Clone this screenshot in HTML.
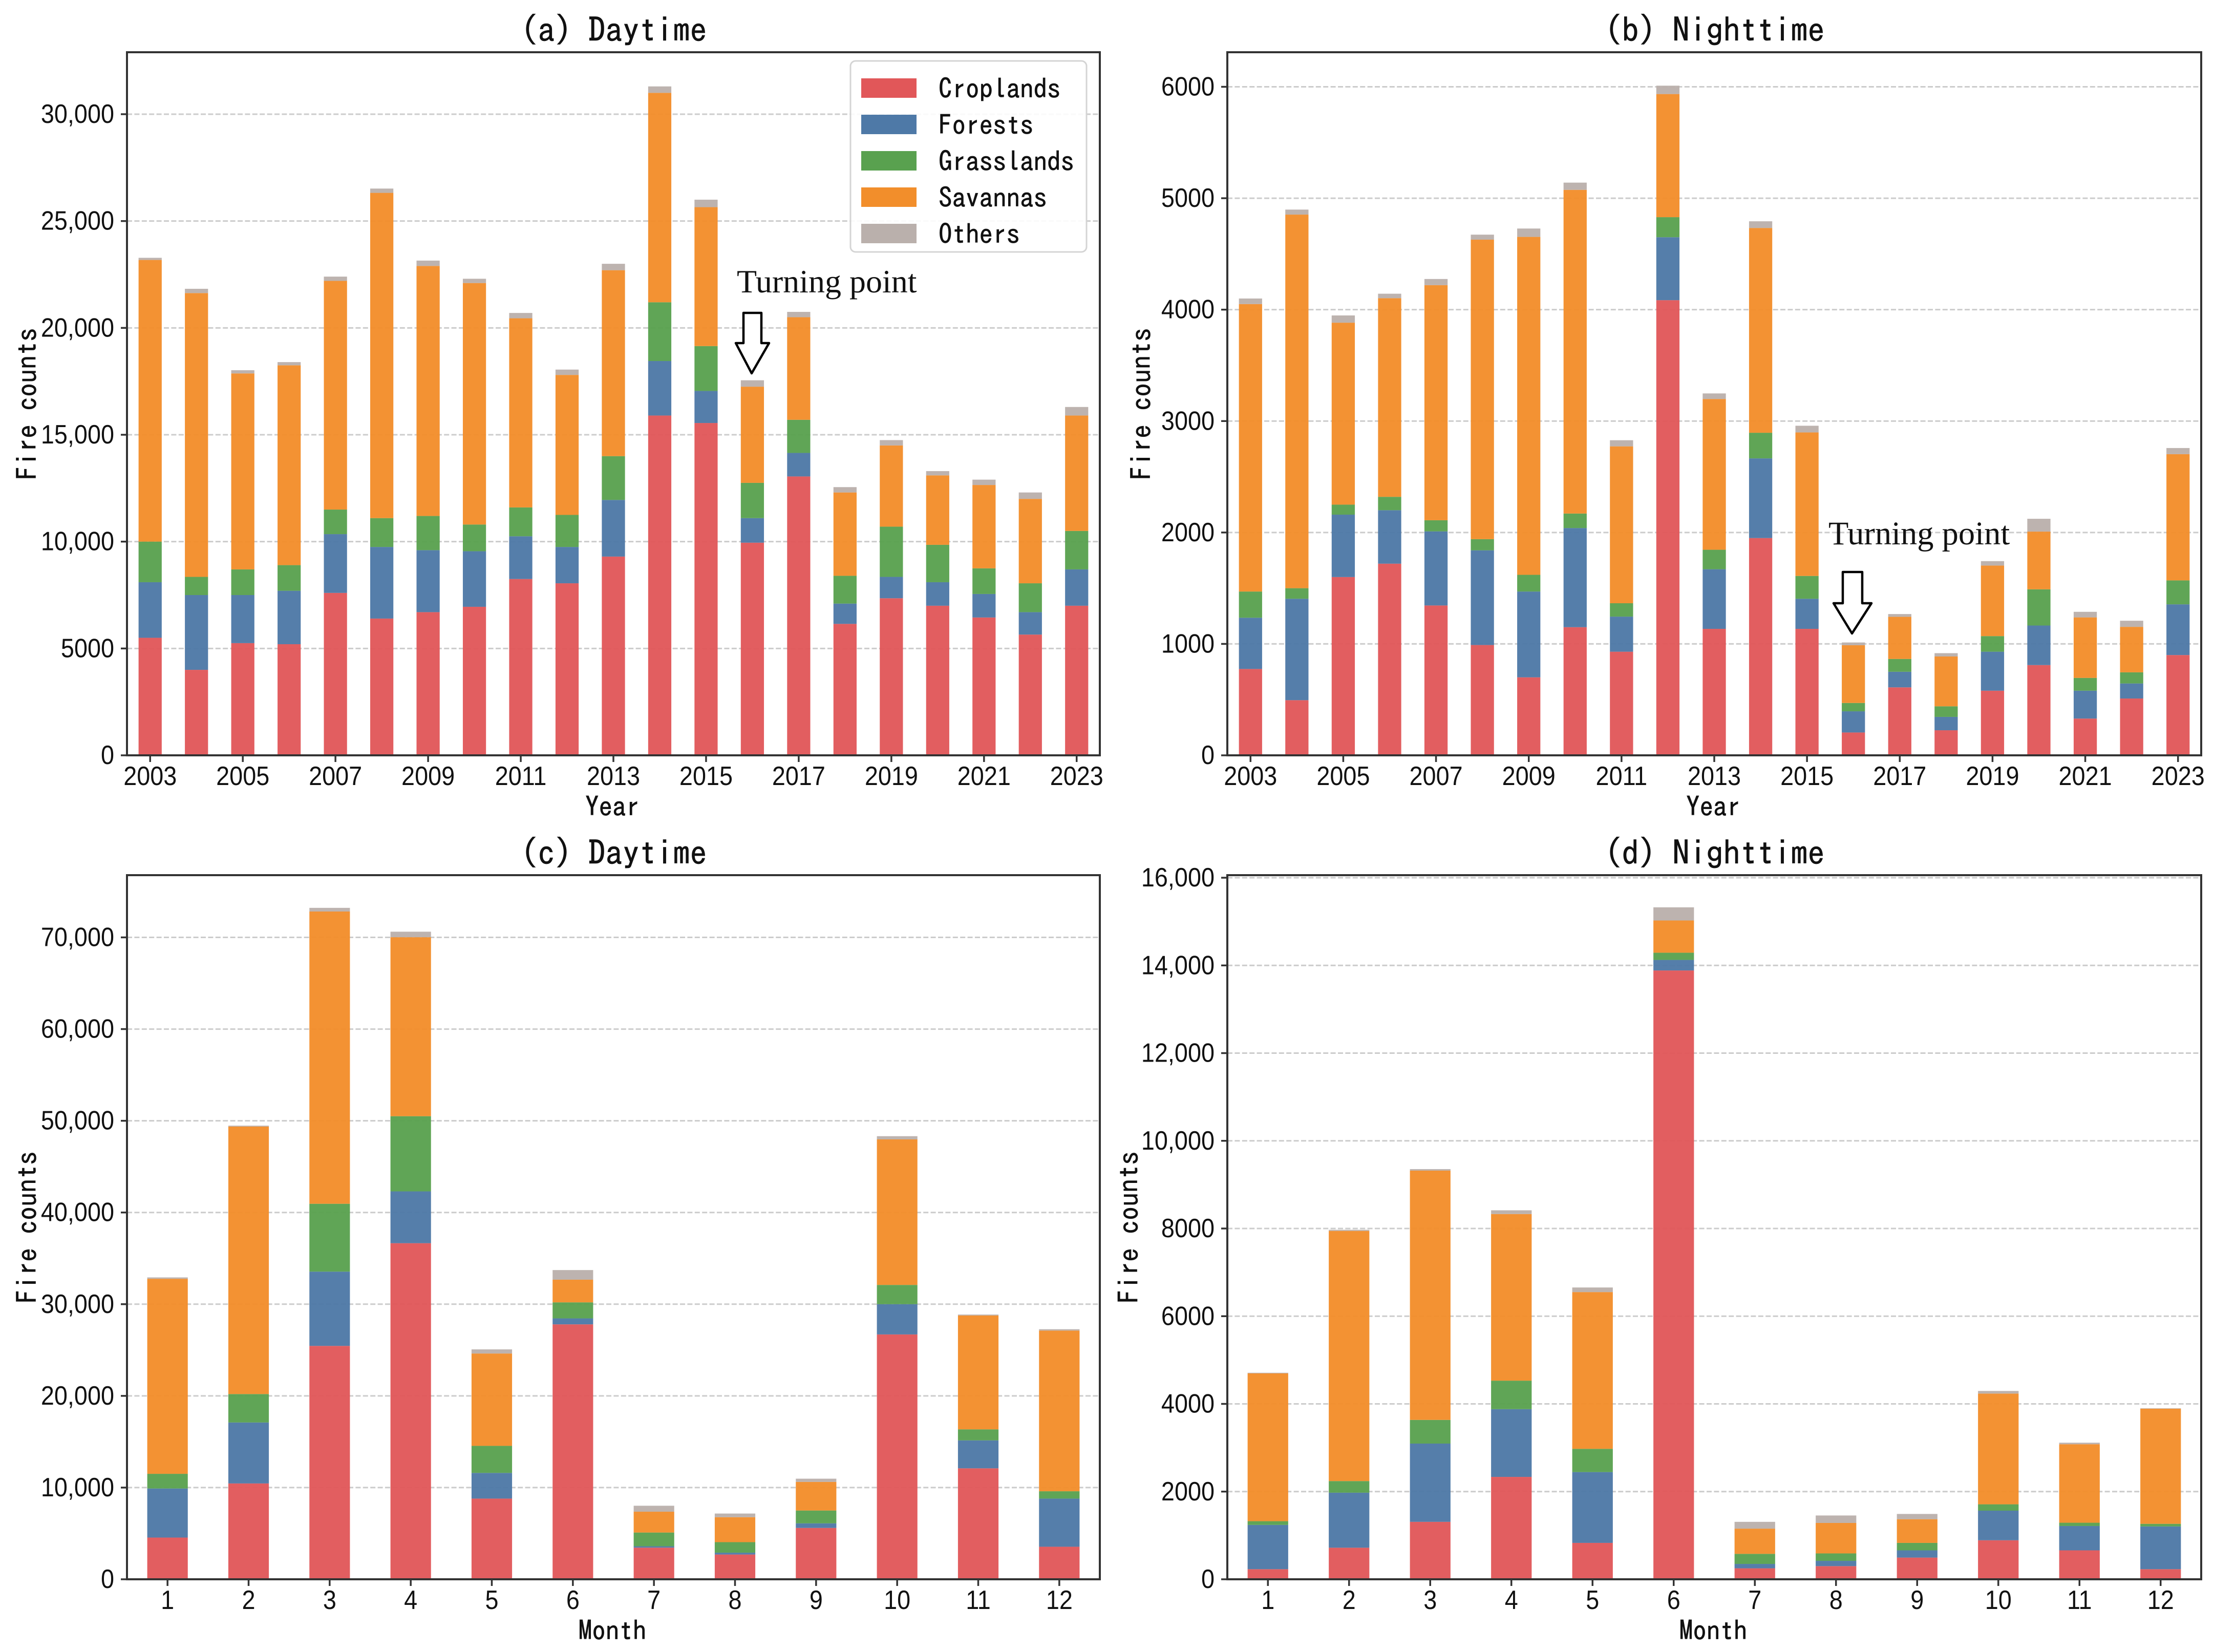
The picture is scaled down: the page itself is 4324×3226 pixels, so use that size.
<!DOCTYPE html>
<html lang="en">
<head>
<meta charset="utf-8">
<title>Fire counts by land cover</title>
<style>
html,body{margin:0;padding:0;background:#fff;width:4324px;height:3226px;overflow:hidden}
svg{display:block}
text{fill:#111;font-family:"IPAGothic","WenQuanYi Zen Hei",monospace}
.heavy{stroke:#111;stroke-width:0.7px}
.serif{font-family:"Liberation Serif",serif}
.tick{font-family:"Liberation Sans",sans-serif}
</style>
</head>
<body>
<svg id="figure" xmlns="http://www.w3.org/2000/svg" width="4324" height="3226" viewBox="0 0 4324 3226">
  <rect x="0" y="0" width="4324" height="3226" fill="#ffffff"/>
  <g id="panels"></g>

  <g>
    <rect x="1661" y="119" width="461" height="373" rx="10" ry="10" fill="#ffffff" fill-opacity="0.9" stroke="#d4d4d4" stroke-width="3"/>
    <g>
      <rect x="1682" y="153" width="108" height="38" fill="#E15759"/>
      <text class="heavy" x="1833" y="192" font-size="53">Croplands</text>
    </g>
    <g>
      <rect x="1682" y="224" width="108" height="38" fill="#4E79A7"/>
      <text class="heavy" x="1833" y="263" font-size="53">Forests</text>
    </g>
    <g>
      <rect x="1682" y="295" width="108" height="38" fill="#59A14F"/>
      <text class="heavy" x="1833" y="334" font-size="53">Grasslands</text>
    </g>
    <g>
      <rect x="1682" y="366" width="108" height="38" fill="#F28E2B"/>
      <text class="heavy" x="1833" y="405" font-size="53">Savannas</text>
    </g>
    <g>
      <rect x="1682" y="437" width="108" height="38" fill="#BAB0AC"/>
      <text class="heavy" x="1833" y="476" font-size="53">Others</text>
    </g>
  </g>

  <g>
    <text class="serif" x="1439" y="571" font-size="64">Turning point</text>
    <polygon points="1452,611 1487,611 1487,670 1502,670 1468,729 1437,670 1452,670" fill="#ffffff" stroke="#000000" stroke-width="4.5" stroke-linejoin="round"/>
  </g>
  <g>
    <text class="serif" x="3571" y="1063" font-size="64.5">Turning point</text>
    <polygon points="3599,1117 3637,1117 3637,1178 3655,1178 3617,1237 3581,1178 3599,1178" fill="#ffffff" stroke="#000000" stroke-width="4.5" stroke-linejoin="round"/>
  </g>
</svg>

<script>
const years = ['2003','2004','2005','2006','2007','2008','2009','2010','2011','2012','2013','2014','2015','2016','2017','2018','2019','2020','2021','2022','2023'];
const months = ['1','2','3','4','5','6','7','8','9','10','11','12'];
const seriesNames = ['Croplands','Forests','Grasslands','Savannas','Others'];
const seriesColors = ['#E15759','#4E79A7','#59A14F','#F28E2B','#BAB0AC'];

const yearDayCroplands = [5500,4000,5250,5200,7600,6400,6700,6950,8250,8050,9300,15900,15550,9950,13050,6150,7350,7000,6450,5650,7000];
const yearDayForests = [2600,3500,2250,2500,2750,3350,2900,2600,2000,1700,2650,2550,1500,1150,1100,950,1000,1100,1100,1050,1700];
const yearDayGrasslands = [1900,850,1200,1200,1150,1350,1600,1250,1350,1500,2050,2750,2100,1650,1550,1300,2350,1750,1200,1350,1800];
const yearDaySavannas = [13180,13280,9170,9350,10700,15220,11700,11300,8850,6550,8700,9800,6500,4500,4800,3900,3800,3250,3900,3950,5400];
const yearDayOthers = [100,200,150,150,200,200,250,200,250,250,300,300,350,300,250,250,250,200,250,300,400];

const yearNightCroplands = [775,495,1600,1720,1345,990,700,1150,930,4085,1135,1950,1135,205,610,225,580,810,330,510,900];
const yearNightForests = [460,910,560,480,665,850,770,890,315,565,535,715,270,190,140,120,350,355,250,135,455];
const yearNightGrasslands = [235,95,90,120,100,100,150,130,120,180,175,230,205,75,115,95,140,325,115,100,215];
const yearNightSavannas = [2580,3353,1633,1783,2110,2688,3033,2905,1408,1105,1353,1838,1288,518,378,447,633,518,543,408,1133];
const yearNightOthers = [50,45,65,40,55,45,75,65,55,75,50,60,60,25,25,30,40,115,50,55,55];

const monthDayCroplands = [4550,10450,25450,36650,8800,27800,3450,2700,5600,26700,12100,3550];
const monthDayForests = [5350,6650,8100,5650,2800,650,150,200,500,3300,3050,5250];
const monthDayGrasslands = [1600,3100,7400,8200,2950,1750,1500,1150,1400,2100,1200,800];
const monthDaySavannas = [21270,29170,31870,19520,10070,2470,2270,2720,3120,15870,12420,17520];
const monthDayOthers = [150,100,400,600,450,1050,650,400,350,350,100,150];

const monthNightCroplands = [230,720,1310,2335,830,13885,250,300,495,890,660,230];
const monthNightForests = [1010,1255,1785,1545,1615,240,100,120,165,675,555,975];
const monthNightGrasslands = [85,265,540,650,530,165,230,170,170,145,75,60];
const monthNightSavannas = [3370,5705,5685,3800,3575,735,575,695,540,2525,1790,2625];
const monthNightOthers = [15,25,35,85,105,300,155,170,120,60,35,10];

const yearTickLabels = ['2003','2005','2007','2009','2011','2013','2015','2017','2019','2021','2023'];
const monthTickLabels = ['1','2','3','4','5','6','7','8','9','10','11','12'];
const yTicksA = [0,5000,10000,15000,20000,25000,30000];
const yTickLabelsA = ['0','5000','10,000','15,000','20,000','25,000','30,000'];
const yTicksB = [0,1000,2000,3000,4000,5000,6000];
const yTickLabelsB = ['0','1000','2000','3000','4000','5000','6000'];
const yTicksC = [0,10000,20000,30000,40000,50000,60000,70000];
const yTickLabelsC = ['0','10,000','20,000','30,000','40,000','50,000','60,000','70,000'];
const yTicksD = [0,2000,4000,6000,8000,10000,12000,14000,16000];
const yTickLabelsD = ['0','2000','4000','6000','8000','10,000','12,000','14,000','16,000'];

const NS = 'http://www.w3.org/2000/svg';
const root = document.getElementById('panels');
const tickSquash = 0.9;

function svgEl(tag, attrs, parent) {
  const el = document.createElementNS(NS, tag);
  for (const k in attrs) el.setAttribute(k, attrs[k]);
  parent.appendChild(el);
  return el;
}

function drawPanel(p) {
  const g = svgEl('g', {}, root);
  
  

  const unit = (p.right - p.left) / p.categories.length;
  const xScale = function (i) { return p.left + unit * (i + 0.5); };
  const yScale = function (v) { return p.bottom - (v / p.yTicks[p.yTicks.length - 1]) * (p.bottom - p.yTop); };
  const barWidth = unit * 0.5;

  // grid
  p.yTicks.forEach(function (t) {
    if (t === 0) return;
    const line = svgEl('line', {x1: p.left, x2: p.right, y1: yScale(t), y2: yScale(t), stroke: '#cccccc', 'stroke-width': 3, 'stroke-dasharray': '10 4.4'}, g);
    
    
  });

  // stacked bars
  p.categories.forEach(function (cat, i) {
    let base = 0;
    p.series.forEach(function (values, s) {
      const top = base + values[i];
      const bar = svgEl('rect', {
        x: xScale(i) - barWidth / 2,
        y: yScale(top),
        width: barWidth,
        height: yScale(base) - yScale(top),
        fill: seriesColors[s],
        'fill-opacity': 0.96
      }, g);
      
      
      base = top;
    });
  });

  // frame
  const frame = svgEl('rect', {x: p.left, y: p.top, width: p.right - p.left, height: p.bottom - p.top, fill: 'none', stroke: '#333333', 'stroke-width': 4}, g);
  
  

  // y ticks
  p.yTicks.forEach(function (t, i) {
    const tick = svgEl('line', {x1: p.left - 12, x2: p.left, y1: yScale(t), y2: yScale(t), stroke: '#333333', 'stroke-width': 3.5}, g);
    
    
    const label = svgEl('text', {'class': 'tick', x: 0, y: 0, 'font-size': 52, 'text-anchor': 'end', transform: 'translate(' + (p.left - 25) + ' ' + (yScale(t) + 17) + ') scale(' + tickSquash + ' 1)'}, g);
    label.textContent = p.yTickLabels[i];
    
    
  });

  // x ticks
  p.xTickLabels.forEach(function (name) {
    const i = p.categories.indexOf(name);
    const tick = svgEl('line', {x1: xScale(i), x2: xScale(i), y1: p.bottom, y2: p.bottom + 13, stroke: '#333333', 'stroke-width': 3.5}, g);
    
    
    const label = svgEl('text', {'class': 'tick', x: 0, y: 0, 'font-size': 52, 'text-anchor': 'middle', transform: 'translate(' + xScale(i) + ' ' + (p.bottom + 58) + ') scale(' + tickSquash + ' 1)'}, g);
    label.textContent = name;
    
    
  });

  // titles
  const title = svgEl('text', {'class': 'heavy', x: (p.left + p.right) / 2 + 1, y: p.top - 20, 'font-size': 66, 'text-anchor': 'middle'}, g);
  title.textContent = p.title;
  
  

  const xTitle = svgEl('text', {'class': 'heavy', x: (p.left + p.right) / 2 - 2, y: p.bottom + 119, 'font-size': 53, 'text-anchor': 'middle'}, g);
  xTitle.textContent = p.xTitle;
  
  

  const yMid = (p.top + p.bottom) / 2;
  const yTitle = svgEl('text', {'class': 'heavy', x: p.yTitleX, y: yMid, 'font-size': 54, 'text-anchor': 'middle', transform: 'rotate(-90 ' + p.yTitleX + ' ' + yMid + ')'}, g);
  yTitle.textContent = 'Fire counts';
  
  
}

drawPanel({
  id: 'a', title: '(a) Daytime', xTitle: 'Year',
  left: 248, right: 2148, top: 102, bottom: 1475, yTop: 223, yTitleX: 72,
  categories: years, xTickLabels: yearTickLabels,
  yTicks: yTicksA, yTickLabels: yTickLabelsA,
  series: [yearDayCroplands, yearDayForests, yearDayGrasslands, yearDaySavannas, yearDayOthers]
});
drawPanel({
  id: 'b', title: '(b) Nighttime', xTitle: 'Year',
  left: 2397, right: 4299, top: 102, bottom: 1475, yTop: 169.5, yTitleX: 2248,
  categories: years, xTickLabels: yearTickLabels,
  yTicks: yTicksB, yTickLabels: yTickLabelsB,
  series: [yearNightCroplands, yearNightForests, yearNightGrasslands, yearNightSavannas, yearNightOthers]
});
drawPanel({
  id: 'c', title: '(c) Daytime', xTitle: 'Month',
  left: 248, right: 2148, top: 1709, bottom: 3084, yTop: 1830.5, yTitleX: 72,
  categories: months, xTickLabels: monthTickLabels,
  yTicks: yTicksC, yTickLabels: yTickLabelsC,
  series: [monthDayCroplands, monthDayForests, monthDayGrasslands, monthDaySavannas, monthDayOthers]
});
drawPanel({
  id: 'd', title: '(d) Nighttime', xTitle: 'Month',
  left: 2397, right: 4299, top: 1709, bottom: 3084, yTop: 1714, yTitleX: 2223.5,
  categories: months, xTickLabels: monthTickLabels,
  yTicks: yTicksD, yTickLabels: yTickLabelsD,
  series: [monthNightCroplands, monthNightForests, monthNightGrasslands, monthNightSavannas, monthNightOthers]
});
</script>
</body>
</html>
